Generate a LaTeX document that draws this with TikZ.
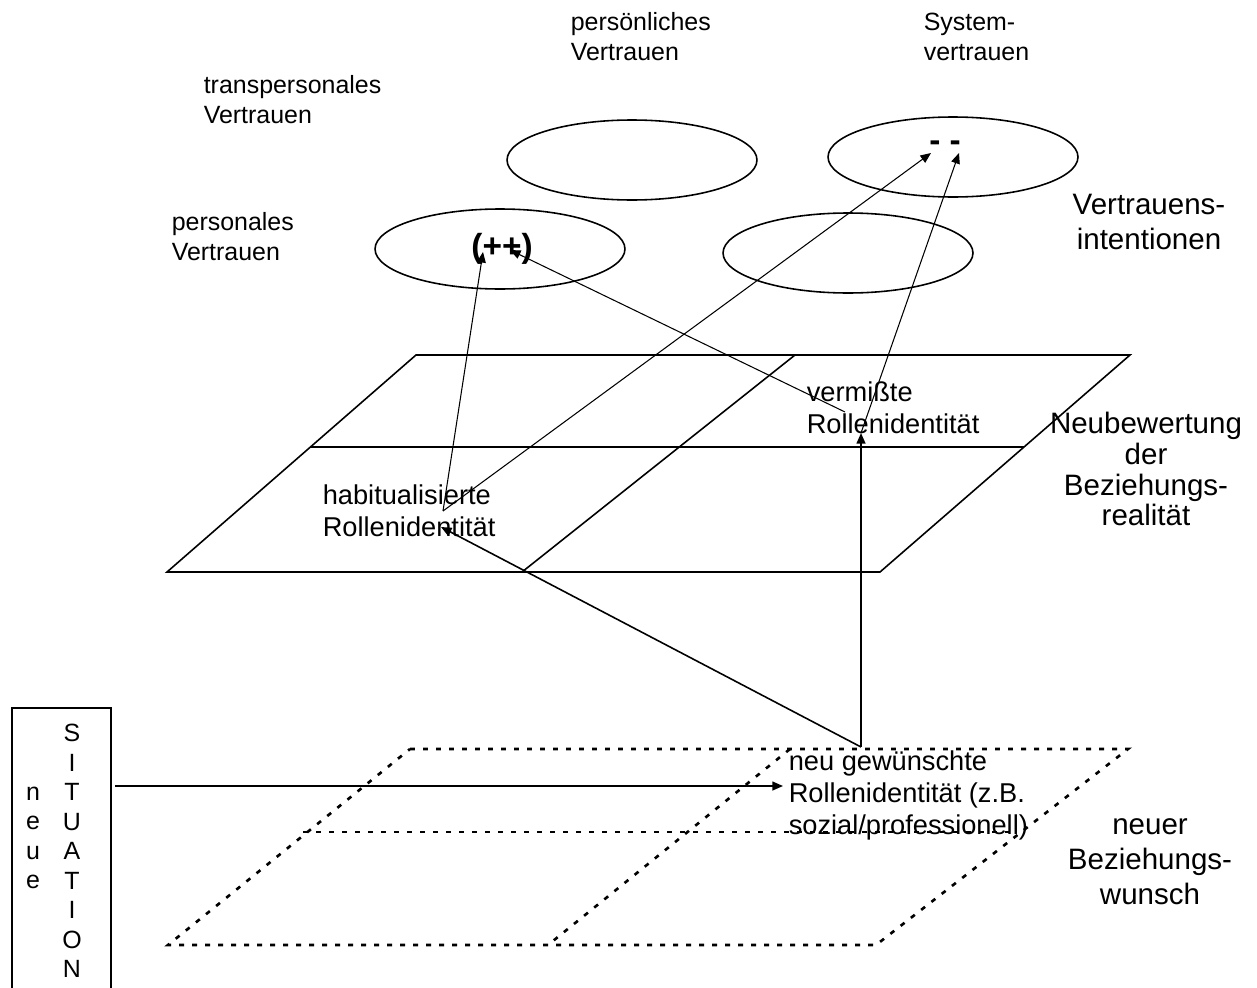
\documentclass[tikz,border=0pt]{standalone}
\usepackage{fontspec}
\setmainfont{Liberation Sans}
\usetikzlibrary{positioning}
\usetikzlibrary{arrows.meta}
\usetikzlibrary{shapes.geometric}
\usetikzlibrary{math}

\begin{document}
\begin{tikzpicture}[x=0.02cm,y=-0.02cm,line width=0.9pt,
  lbl/.style={inner sep=0pt,align=left,font=\fontsize{14.2}{17}\selectfont},
  planelbl/.style={inner sep=0pt,align=left,font=\fontsize{15.5}{18.2}\selectfont},
  biglbl/.style={inner sep=0pt,align=center,font=\fontsize{16.8}{19.9}\selectfont},
  signlbl/.style={inner sep=0pt,font=\fontsize{19}{22}\selectfont\bfseries},
  intention/.style={ellipse,draw,minimum width=\ellw cm,minimum height=\ellh cm,inner sep=0pt},
  arr/.style={-{Triangle[length=6pt,width=5pt]}},
  thinline/.style={line width=0.6pt},
  dots/.style={line width=1.5pt,dash pattern=on 2.8pt off 4.6pt}]

  \tikzmath{
    \ellw = 5.0;  % width of the intention ellipses
    \ellh = 1.6;  % height of the intention ellipses
  }

  \useasboundingbox (0,0) rectangle (1257,987);

  % Vertrauensintentionen
  \node[intention] (ePersoenlich) at (632,160) {};
  \node[intention] (eSystem)      at (953,157) {};
  \node[intention] (ePersonal)    at (500,249) {};
  \node[intention] (eRight)       at (848,253) {};

  \node[lbl,anchor=west] (tPersoenlich) at (570,37)  {persönliches\\Vertrauen};
  \node[lbl,anchor=west] (tSystem)      at (923,37)  {System-\\vertrauen};
  \node[lbl,anchor=west] (tTrans)       at (203,100) {transpersonales\\Vertrauen};
  \node[lbl,anchor=west] (tPersonal)    at (171,237) {personales\\Vertrauen};

  \node[signlbl] (plus)  at (502,249) {(++)};
  \node[signlbl] (minus) at (945,146) {- -};

  % Neubewertung der Beziehungsrealitaet (solid plane)
  \coordinate (A) at (416,355);
  \coordinate (B) at (1130,355);
  \coordinate (C) at (880,572);
  \coordinate (D) at (167,572);
  \coordinate (AD) at (310,447);
  \coordinate (BC) at (1024,447);
  \coordinate (AB) at (795,355);
  \coordinate (CD) at (522,572);
  \draw (A) -- (B) -- (C) -- (D) -- cycle;
  \draw (AD) -- (BC);
  \draw (AB) -- (CD);

  \node[planelbl,anchor=west] (tHab)  at (322,511) {habitualisierte\\Rollenidentität};
  \node[planelbl,anchor=west] (tVerm) at (806,408) {vermißte\\Rollenidentität};

  % neuer Beziehungswunsch (dotted plane)
  \coordinate (P) at (410,749);
  \coordinate (Q) at (1128,749);
  \coordinate (R) at (876,945);
  \coordinate (S) at (168,945);
  \coordinate (PS) at (303,832);
  \coordinate (QR) at (1016,832);
  \coordinate (PQ) at (790,749);
  \coordinate (RS) at (548,945);
  \draw[dots] (P) -- (Q) -- (R) -- (S) -- cycle;
  \draw[dots] (PS) -- (QR);
  \draw[dots] (PQ) -- (RS);

  \node[planelbl,anchor=west] (tWish) at (788,795)
    {neu gewünschte\\Rollenidentität (z.B.\\sozial/professionell)};

  % labels on the right
  \node[biglbl] (tIntent) at (1149,222) {Vertrauens-\\intentionen};
  \node[biglbl,font=\fontsize{16.8}{17.6}\selectfont] (tNeu) at (1146,469)
    {Neubewertung\\der\\Beziehungs-\\realität};
  \node[biglbl] (tWunsch) at (1150,862) {neuer\\Beziehungs-\\wunsch};

  % neue SITUATION
  \node[draw,anchor=north west,minimum width=1.98cm,minimum height=6cm] (box) at (11,707) {};
  \node[lbl,align=center,font=\fontsize{14.2}{16.8}\selectfont] (tNeue) at (33,838) {n\\e\\u\\e};
  \node[lbl,align=center,font=\fontsize{14.2}{16.8}\selectfont] (tSit) at (72,851) {S\\I\\T\\U\\A\\T\\I\\O\\N};

  % arrows
  \coordinate (hab)   at (443,511);
  \coordinate (ppL)   at (483,252);
  \coordinate (ppR)   at (510,250);
  \coordinate (mmL)   at (931,153);
  \coordinate (mmR)   at (959,153);
  \coordinate (verm)  at (861,433);
  \coordinate (vermL) at (845,412);
  \coordinate (wish)  at (861,747);
  \coordinate (habR)  at (441,527);
  \coordinate (sitR)  at (115,786);
  \coordinate (wishL) at (783,786);

  \draw[arr,thinline] (hab) -- (ppL);
  \draw[arr,thinline] (hab) -- (mmL);
  \draw[arr,thinline] (vermL) -- (ppR);
  \draw[arr,thinline] (verm) -- (mmR);
  \draw[arr] (wish) -- (habR);
  \draw[arr] (wish) -- (verm);
  \draw[arr] (sitR) -- (wishL);

\end{tikzpicture}
\end{document}
